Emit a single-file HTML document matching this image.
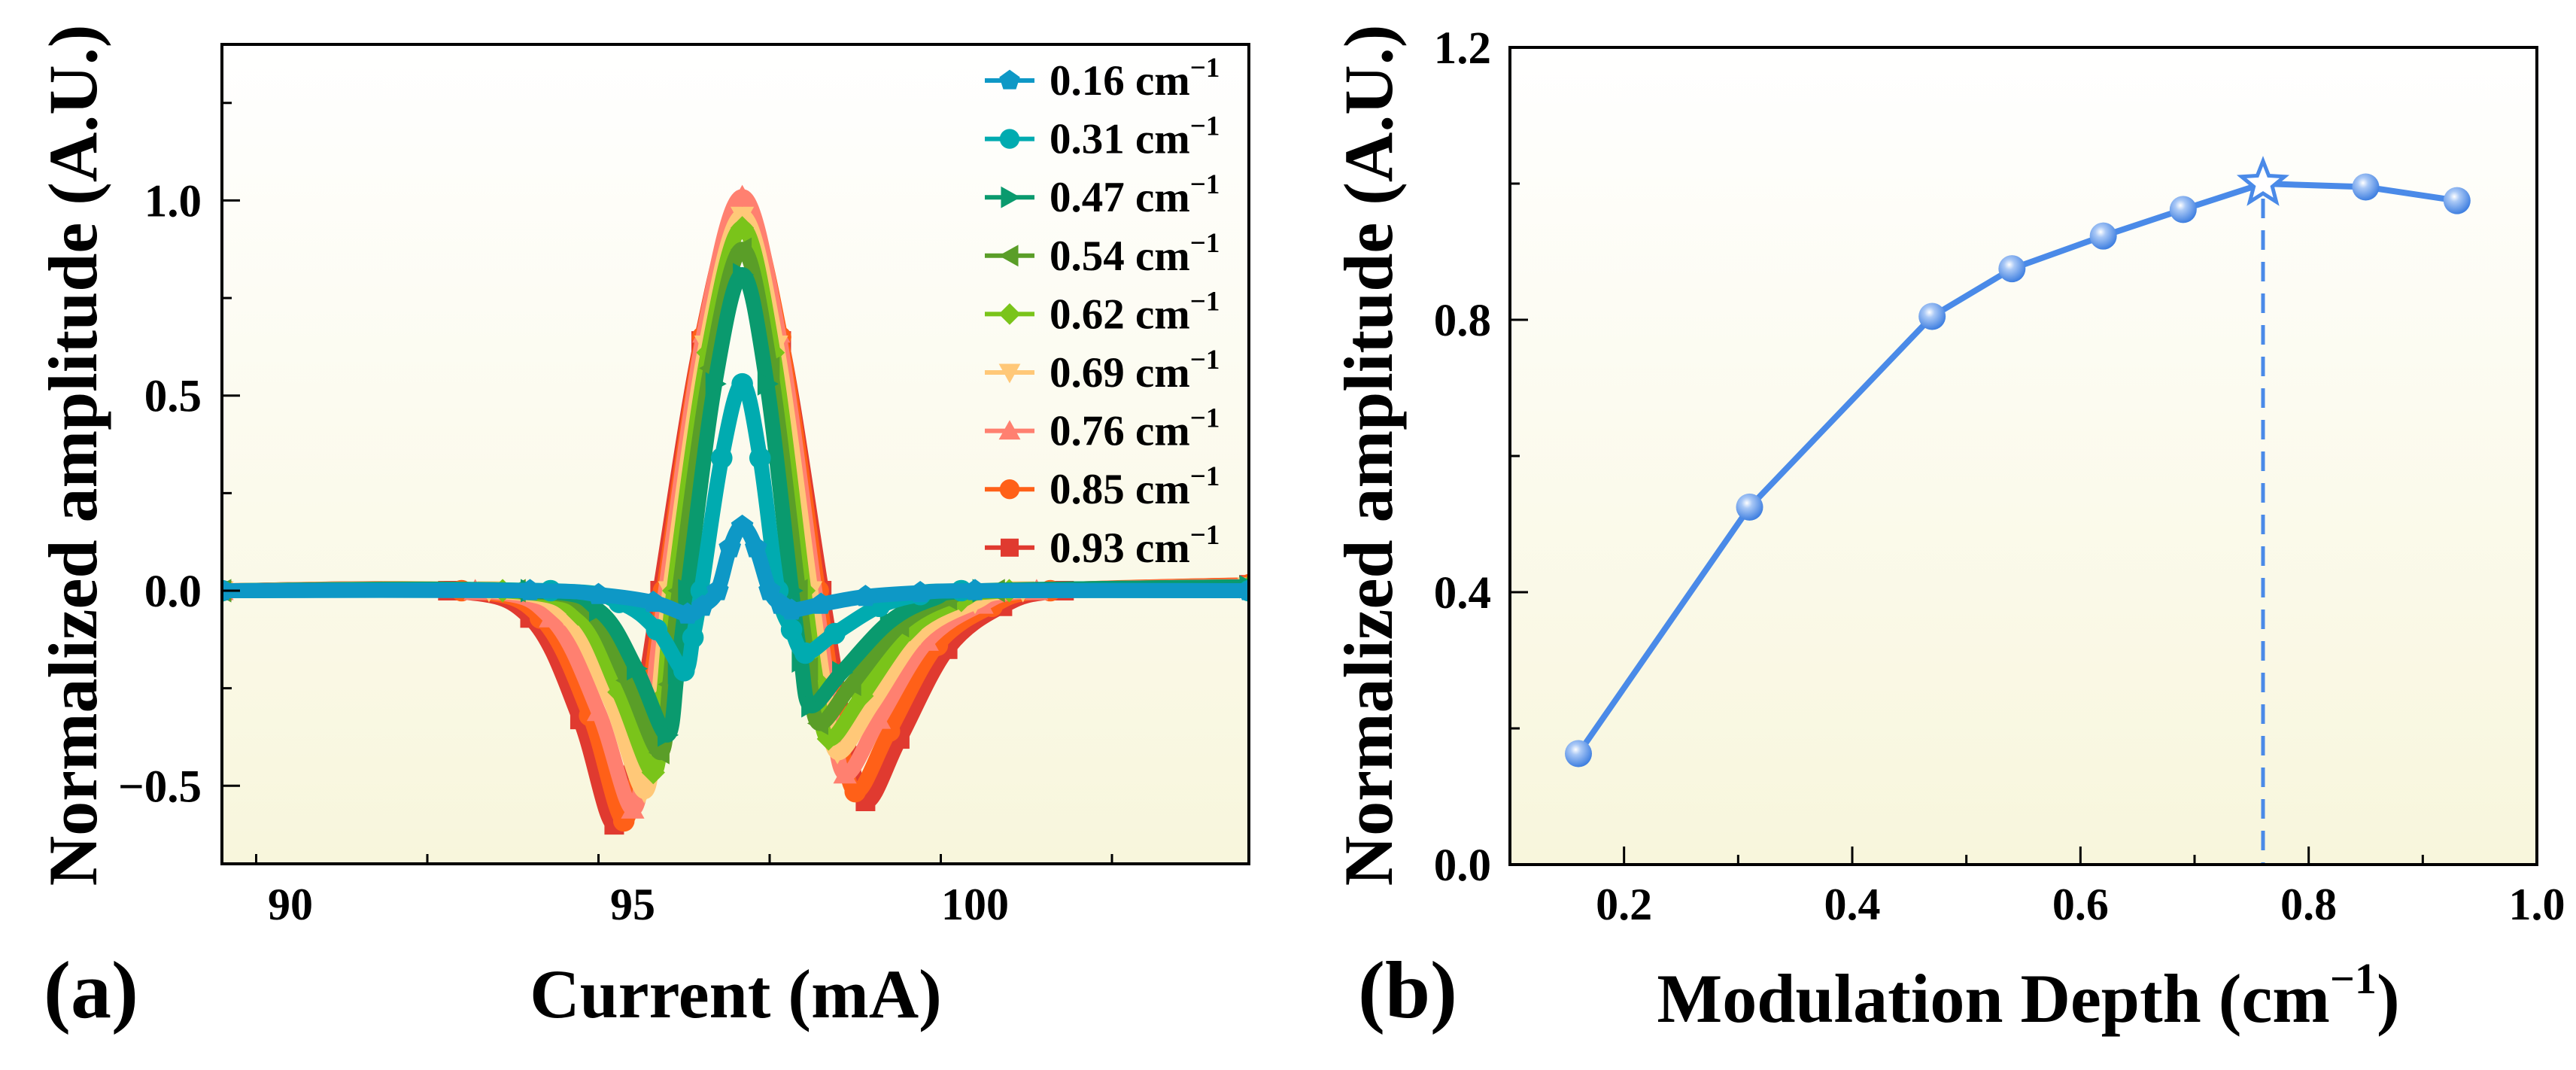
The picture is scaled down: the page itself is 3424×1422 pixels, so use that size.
<!DOCTYPE html>
<html><head><meta charset="utf-8"><style>
html,body{margin:0;padding:0;background:#fff;}
svg{display:block;font-family:"Liberation Serif",serif;font-weight:bold;}
</style></head><body>
<svg id="fig" width="3424" height="1422" viewBox="0 0 3424 1422" xmlns="http://www.w3.org/2000/svg">
<defs>
<linearGradient id="bg" x1="0" y1="0" x2="0" y2="1"><stop offset="0" stop-color="#ffffff"/><stop offset="1" stop-color="#f8f6dc"/></linearGradient>
<radialGradient id="ball" cx="0.4" cy="0.35" r="0.65"><stop offset="0" stop-color="#ffffff"/><stop offset="0.3" stop-color="#a9c8f6"/><stop offset="1" stop-color="#3f7fe0"/></radialGradient>
</defs>
<g id="pa"></g>
<g id="pb"></g>
</svg>
<script>
// ---------- Panel (a) data ----------
const aLabels = ["0.16","0.31","0.47","0.54","0.62","0.69","0.76","0.85","0.93"];
const aColors = ["#0e98c6","#00abb0","#0a9a6e","#5a9e28","#7ac41a","#ffc878","#ff8070","#ff6018","#e03a30"];
const aMarkers = ["pent","circle","right","left","diamond","down","up","circle","square"];
const x016 = [89,93.5,94.5,95.3,95.8,96.02,96.24,96.42,96.6,96.8,97.0,97.16,97.32,97.75,98.4,99.2,100,104];
const y016 = [0,0,-0.01,-0.03,-0.06,-0.04,0,0.11,0.165,0.11,0,-0.035,-0.05,-0.035,-0.015,-0.005,0,0];
const x031 = [89,93.8,94.8,95.35,95.75,95.88,96.0,96.3,96.6,96.86,97.12,97.32,97.52,97.95,98.6,99.2,99.8,104];
const y031 = [0,0,-0.03,-0.1,-0.205,-0.12,0,0.34,0.53,0.34,0,-0.1,-0.16,-0.11,-0.04,-0.01,0,0];
const x047 = [89,93.5,94.5,95.05,95.5,95.65,95.8,96.2,96.6,96.96,97.32,97.46,97.6,98.05,98.75,99.4,100.1,104];
const y047 = [0,0,-0.05,-0.2,-0.37,-0.21,0,0.53,0.81,0.53,0,-0.18,-0.295,-0.21,-0.08,-0.02,0,0.01];
const x054 = [89,93.3,94.35,94.92,95.4,95.54,95.68,96.14,96.6,97.01,97.42,97.57,97.72,98.2,98.9,99.6,100.3,104];
const y054 = [0,0,-0.05,-0.23,-0.415,-0.24,0,0.57,0.875,0.57,0,-0.2,-0.34,-0.24,-0.09,-0.02,0,0.01];
const x062 = [89,93.1,94.2,94.8,95.3,95.45,95.6,96.1,96.6,97.05,97.5,97.68,97.86,98.35,99.05,99.8,100.5,104];
const y062 = [0,0,-0.06,-0.26,-0.466,-0.27,0,0.61,0.93,0.61,0,-0.23,-0.38,-0.27,-0.1,-0.025,0,0.01];
const x069 = [89,92.9,94.0,94.67,95.17,95.36,95.54,96.07,96.6,97.1,97.6,97.8,97.99,98.5,99.2,100.0,100.7,104];
const y069 = [0,0,-0.06,-0.28,-0.515,-0.3,0,0.63,0.96,0.63,0,-0.25,-0.415,-0.29,-0.11,-0.03,0,0.01];
const x076 = [89,92.7,93.8,94.5,95.0,95.24,95.48,96.04,96.6,97.13,97.66,97.88,98.1,98.6,99.3,100.1,100.9,104];
const y076 = [0,0,-0.07,-0.31,-0.56,-0.33,0,0.66,1.01,0.66,0,-0.28,-0.47,-0.33,-0.13,-0.035,0,0.012];
const x085 = [89,92.5,93.65,94.37,94.87,95.16,95.45,96.02,96.6,97.16,97.71,97.98,98.25,98.75,99.45,100.25,101.1,104];
const y085 = [0,0,-0.07,-0.32,-0.59,-0.35,0,0.65,0.99,0.65,0,-0.31,-0.515,-0.36,-0.14,-0.04,0,0.015];
const x093 = [89,92.3,93.5,94.23,94.73,95.07,95.4,96.0,96.58,97.17,97.76,98.08,98.4,98.9,99.6,100.4,101.3,104];
const y093 = [0,0,-0.07,-0.33,-0.60,-0.36,0,0.64,0.975,0.64,0,-0.33,-0.54,-0.38,-0.15,-0.04,0,0.015];
const aXs = [x016,x031,x047,x054,x062,x069,x076,x085,x093];
const aYs = [y016,y031,y047,y054,y062,y069,y076,y085,y093];
const aXTicks = [90,95,100];
const aXTickLabels = ["90","95","100"];
const aYTicks = [-0.5,0,0.5,1.0];
const aYTickLabels = ["\u22120.5","0.0","0.5","1.0"];
// ---------- Panel (b) data ----------
const bX = [0.16,0.31,0.47,0.54,0.62,0.69,0.76,0.85,0.93];
const bY = [0.163,0.525,0.805,0.875,0.923,0.962,1.0,0.995,0.975];
const bStarIndex = 6;
const bXTicks = [0.2,0.4,0.6,0.8,1.0];
const bXTickLabels = ["0.2","0.4","0.6","0.8","1.0"];
const bYTicks = [0,0.4,0.8,1.2];
const bYTickLabels = ["0.0","0.4","0.8","1.2"];

const NS = "http://www.w3.org/2000/svg";
function mk(parent, tag, attrs, text){
  const e = document.createElementNS(NS, tag);
  for (const k in attrs) e.setAttribute(k, attrs[k]);
  if (text !== undefined) e.textContent = text;
  parent.appendChild(e);
  return e;
}
function smoothPath(pts){
  let d = "M" + pts[0][0] + "," + pts[0][1];
  for (let i=0;i<pts.length-1;i++){
    const p0 = pts[Math.max(0,i-1)], p1 = pts[i], p2 = pts[i+1], p3 = pts[Math.min(pts.length-1,i+2)];
    const t = 6;
    const c1x = p1[0] + (p2[0]-p0[0])/t, c1y = p1[1] + (p2[1]-p0[1])/t;
    const c2x = p2[0] - (p3[0]-p1[0])/t, c2y = p2[1] - (p3[1]-p1[1])/t;
    d += " C" + c1x + "," + c1y + " " + c2x + "," + c2y + " " + p2[0] + "," + p2[1];
  }
  return d;
}
function marker(g, type, cx, cy, s, color){
  let e;
  if (type === "circle") e = mk(g,"circle",{cx:cx,cy:cy,r:s*0.55,fill:color});
  else if (type === "square") e = mk(g,"rect",{x:cx-s*0.5,y:cy-s*0.5,width:s,height:s,fill:color});
  else {
    let p;
    const h = s*0.6;
    if (type==="up") p=[[cx,cy-h],[cx+h,cy+h*0.8],[cx-h,cy+h*0.8]];
    else if (type==="down") p=[[cx,cy+h],[cx+h,cy-h*0.8],[cx-h,cy-h*0.8]];
    else if (type==="right") p=[[cx+h,cy],[cx-h*0.8,cy-h],[cx-h*0.8,cy+h]];
    else if (type==="left") p=[[cx-h,cy],[cx+h*0.8,cy-h],[cx+h*0.8,cy+h]];
    else if (type==="diamond") p=[[cx,cy-h],[cx+h,cy],[cx,cy+h],[cx-h,cy]];
    else { p=[]; for(let k=0;k<5;k++){const a=-Math.PI/2+k*2*Math.PI/5; p.push([cx+h*Math.cos(a),cy+h*Math.sin(a)]);} }
    e = mk(g,"polygon",{points:p.map(q=>q.join(",")).join(" "),fill:color});
  }
  return e;
}

// ===== Panel A =====
(function(){
  const g = document.getElementById("pa");
  const L=295,R=1660,T=59,B=1148, xMin=89,xMax=104,yMin=-0.7,yMax=1.4;
  const sx = v => L + (v-xMin)/(xMax-xMin)*(R-L);
  const sy = v => B - (v-yMin)/(yMax-yMin)*(B-T);
  const bg = mk(g,"rect",{x:L,y:T,width:R-L,height:B-T,fill:"url(#bg)"});
  
  
  const clip = mk(g,"clipPath",{id:"clipA"}); mk(clip,"rect",{x:L,y:T,width:R-L,height:B-T});
  const sg = mk(g,"g",{"clip-path":"url(#clipA)"});
  for (let i=aLabels.length-1;i>=0;i--){
    const s = mk(sg,"g",{});
    
    
    const pts = aXs[i].map((x,j)=>[sx(x),sy(aYs[i][j])]);
    mk(s,"path",{d:smoothPath(pts),fill:"none",stroke:aColors[i],"stroke-width":20,"stroke-linejoin":"round","stroke-linecap":"round"});
    pts.forEach(p=>marker(s,aMarkers[i],p[0],p[1],26,aColors[i]));
  }
  const ax = mk(g,"rect",{x:L,y:T,width:R-L,height:B-T,fill:"none",stroke:"#000","stroke-width":4});
  
  
  for (let v=89.5; v<=104; v+=2.5){
    const X=sx(v); const major = aXTicks.indexOf(v)>=0;
    mk(g,"line",{x1:X,y1:B,x2:X,y2:B-(major?24:13),stroke:"#000","stroke-width":3});
  }
  aXTicks.forEach((v,i)=>{
    const t = mk(g,"text",{x:sx(v),y:1222,"font-size":60,"text-anchor":"middle"},aXTickLabels[i]);
    
    
  });
  for (let v=-0.5; v<=1.25; v+=0.25){
    const Y=sy(v); const major = Math.abs(v*2-Math.round(v*2))<1e-6;
    mk(g,"line",{x1:L,y1:Y,x2:L+(major?24:13),y2:Y,stroke:"#000","stroke-width":3});
  }
  aYTicks.forEach((v,i)=>{
    const t = mk(g,"text",{x:268,y:sy(v)+21,"font-size":61,"text-anchor":"end"},aYTickLabels[i]);
    
    
  });
  const lg = mk(g,"g",{});
  
  
  aLabels.forEach((lab,i)=>{
    const y = 107 + i*77.6;
    const e = mk(lg,"g",{});
    
    
    mk(e,"line",{x1:1309,y1:y,x2:1375,y2:y,stroke:aColors[i],"stroke-width":6});
    marker(e,aMarkers[i],1342,y,24,aColors[i]);
    const t = mk(e,"text",{x:1395,y:y+19,"font-size":57});
    mk(t,"tspan",{},lab+" cm");
    mk(t,"tspan",{dy:-24,"font-size":37},"\u22121");
  });
  const yt = mk(g,"text",{x:0,y:0,"font-size":92,"text-anchor":"middle",transform:"translate(128,605) rotate(-90)"},"Normalized amplitude (A.U.)");
  
  
  const xt = mk(g,"text",{x:978,y:1352,"font-size":92,"text-anchor":"middle"},"Current (mA)");
  
  
  const pl = mk(g,"text",{x:58,y:1352,"font-size":108},"(a)");
  
  
})();

// ===== Panel B =====
(function(){
  const g = document.getElementById("pb");
  const L=2007,R=3372,T=63,B=1149, xMin=0.1,xMax=1.0,yMin=0,yMax=1.2;
  const sx = v => L + (v-xMin)/(xMax-xMin)*(R-L);
  const sy = v => B - (v-yMin)/(yMax-yMin)*(B-T);
  const bg = mk(g,"rect",{x:L,y:T,width:R-L,height:B-T,fill:"url(#bg)"});
  
  
  const dl = mk(g,"line",{x1:sx(bX[bStarIndex]),y1:sy(bY[bStarIndex])+20,x2:sx(bX[bStarIndex]),y2:B,stroke:"#4a8ae8","stroke-width":5,"stroke-dasharray":"26,16"});
  
  
  const ln = mk(g,"path",{d:bX.map((x,i)=>(i?"L":"M")+sx(x)+","+sy(bY[i])).join(" "),fill:"none",stroke:"#4a8ae8","stroke-width":8});
  
  
  bX.forEach((x,i)=>{
    if (i===bStarIndex){
      const p=[]; const cx=sx(x), cy=sy(bY[i]);
      for(let k=0;k<10;k++){const a=-Math.PI/2+k*Math.PI/5; const r=k%2?13:30; p.push((cx+r*Math.cos(a))+","+(cy+r*Math.sin(a)));}
      const st = mk(g,"polygon",{points:p.join(" "),fill:"#ffffff",stroke:"#4a8ae8","stroke-width":5});
      
      
    } else {
      const c = mk(g,"circle",{cx:sx(x),cy:sy(bY[i]),r:18,fill:"url(#ball)"});
      
      
    }
  });
  const ax = mk(g,"rect",{x:L,y:T,width:R-L,height:B-T,fill:"none",stroke:"#000","stroke-width":4});
  
  
  for (let v=0.2; v<=1.0001; v+=0.1){
    const X=sx(v); const major = Math.round(v*10)%2===0;
    mk(g,"line",{x1:X,y1:B,x2:X,y2:B-(major?24:13),stroke:"#000","stroke-width":3});
  }
  bXTicks.forEach((v,i)=>{
    const t = mk(g,"text",{x:sx(v),y:1222,"font-size":60,"text-anchor":"middle"},bXTickLabels[i]);
    
    
  });
  for (let v=0.2; v<1.2; v+=0.2){
    const Y=sy(v); const major = Math.round(v*10)%4===0;
    mk(g,"line",{x1:L,y1:Y,x2:L+(major?24:13),y2:Y,stroke:"#000","stroke-width":3});
  }
  bYTicks.forEach((v,i)=>{
    const t = mk(g,"text",{x:1982,y:sy(v)+21,"font-size":61,"text-anchor":"end"},bYTickLabels[i]);
    
    
  });
  const yt = mk(g,"text",{x:0,y:0,"font-size":92,"text-anchor":"middle",transform:"translate(1850,605) rotate(-90)"},"Normalized amplitude (A.U.)");
  
  
  const xt = mk(g,"text",{x:2696,y:1358,"font-size":92,"text-anchor":"middle"});
  
  
  mk(xt,"tspan",{},"Modulation Depth (cm");
  mk(xt,"tspan",{dy:-38,"font-size":58},"\u22121");
  mk(xt,"tspan",{dy:38},")");
  const pl = mk(g,"text",{x:1805,y:1352,"font-size":108},"(b)");
  
  
})();
</script>
</body></html>
